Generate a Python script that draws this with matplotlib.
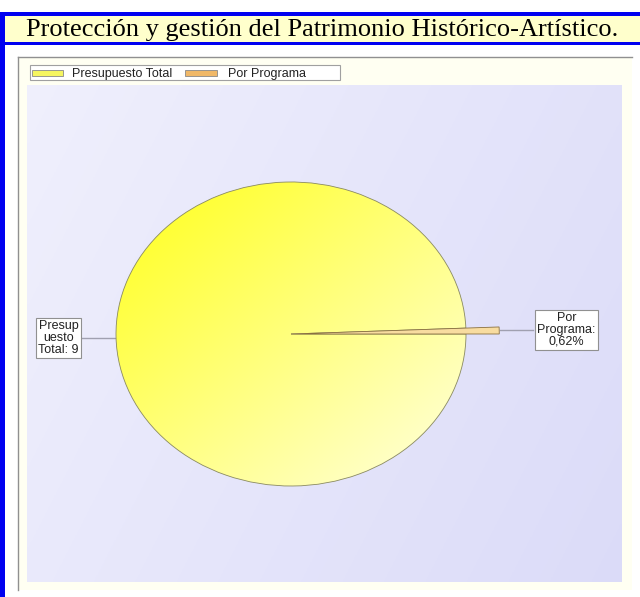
import numpy as np
import matplotlib.pyplot as plt
from matplotlib.patches import Rectangle

# datos
categorias = ['Presupuesto Total', 'Por Programa']
valores = [99.38, 0.62]
etiquetas = ['Presup\nuesto\nTotal: 9', 'Por\nPrograma:\n0,62%']
titulo = 'Protección y gestión del Patrimonio Histórico-Artístico.'

W, H = 640, 597
fig = plt.figure(figsize=(W / 100, H / 100), dpi=100)

# capa de fondo en coordenadas de pixel
ax = fig.add_axes([0, 0, 1, 1])
ax.set_xlim(0, W)
ax.set_ylim(H, 0)
ax.axis('off')

# marco azul y cabecera
ax.add_patch(Rectangle((0, 12), W, 33, facecolor='#0000f0', edgecolor='none'))
ax.add_patch(Rectangle((5, 16), W - 5, 26, facecolor='#ffffcc', edgecolor='none'))
ax.add_patch(Rectangle((0, 12), 5, H - 12, facecolor='#0000f0', edgecolor='none'))
ax.text(322, 30, titulo, ha='center', va='center', fontsize=19,
        family='Liberation Serif', color='black')

# panel del grafico
ax.add_patch(Rectangle((18, 57), 614, 533, facecolor='#fffff2', edgecolor='none'))
ax.plot([18, 632], [57, 57], color='#909090', lw=1)
ax.plot([18, 18], [57, 590], color='#909090', lw=1)

# area de trazado con degradado lavanda
gx = np.linspace(0, 1, 200)
GX, GY = np.meshgrid(gx, gx)
g = (GX * 0.7 + GY * 0.3)
c0 = np.array([0.94, 0.94, 0.99])
c1 = np.array([0.86, 0.86, 0.975])
img = c0[None, None, :] * (1 - g[..., None]) + c1[None, None, :] * g[..., None]
ax.imshow(img, extent=(27, 622, 582, 85), aspect='auto', zorder=1)

# leyenda
ax.add_patch(Rectangle((30, 65), 310, 15, facecolor='white', edgecolor='#a0a0a0', lw=0.8, zorder=3))
ax.add_patch(Rectangle((32, 69.5), 31, 6, facecolor='#f5f560', edgecolor='#888888', lw=0.6, zorder=4))
ax.text(72, 73.5, categorias[0], ha='left', va='center', fontsize=9,
        family='Liberation Sans', color='#222222', zorder=4)
ax.add_patch(Rectangle((185, 69.5), 32, 6, facecolor='#f0b868', edgecolor='#888888', lw=0.6, zorder=4))
ax.text(228, 73.5, categorias[1], ha='left', va='center', fontsize=9,
        family='Liberation Sans', color='#222222', zorder=4)

# tarta (eliptica)
cx, cy, rx, ry = 291, 334, 175, 152
k = 1.3
pax = fig.add_axes([(cx - k * rx) / W, (H - cy - k * ry) / H, 2 * k * rx / W, 2 * k * ry / H])
wedges, _ = pax.pie(valores[::-1], startangle=0, counterclock=True,
                    colors=['#f8dca0', '#ffff66'],
                    wedgeprops=dict(edgecolor='#8a8a60', linewidth=0.6))
pax.set_aspect('auto')
pax.set_xlim(-k, k)
pax.set_ylim(-k, k)
pax.axis('off')

grande = wedges[1]
grande.set_facecolor('none')
t = np.clip((GX + GY) / 2, 0, 1)
ca = np.array([1.0, 1.0, 0.1])
cb = np.array([1.0, 1.0, 0.88])
img2 = ca[None, None, :] * (1 - t[..., None]) + cb[None, None, :] * t[..., None]
im2 = pax.imshow(img2, extent=(-1, 1, -1, 1), origin='upper', aspect='auto', zorder=0)
im2.set_clip_path(grande)

peq = wedges[0]
peq.set_radius(1.19)
peq.set_edgecolor('#8a7040')
peq.set_zorder(3)

# etiquetas con lineas guia
ax.plot([82, 116], [338, 338], color='#a0a0b0', lw=1, zorder=3)
ax.text(58.5, 338, etiquetas[0], ha='center', va='center', fontsize=9,
        family='Liberation Sans', color='#222222', linespacing=1.0, zorder=4,
        bbox=dict(boxstyle='square,pad=0.15', facecolor='white', edgecolor='#909090', lw=0.8))
ax.plot([500, 533], [330, 330], color='#a0a0b0', lw=1, zorder=3)
ax.text(566.5, 330, etiquetas[1], ha='center', va='center', fontsize=9,
        family='Liberation Sans', color='#222222', linespacing=1.0, zorder=4,
        bbox=dict(boxstyle='square,pad=0.15', facecolor='white', edgecolor='#909090', lw=0.8))

fig.savefig('out.png', dpi=100)
